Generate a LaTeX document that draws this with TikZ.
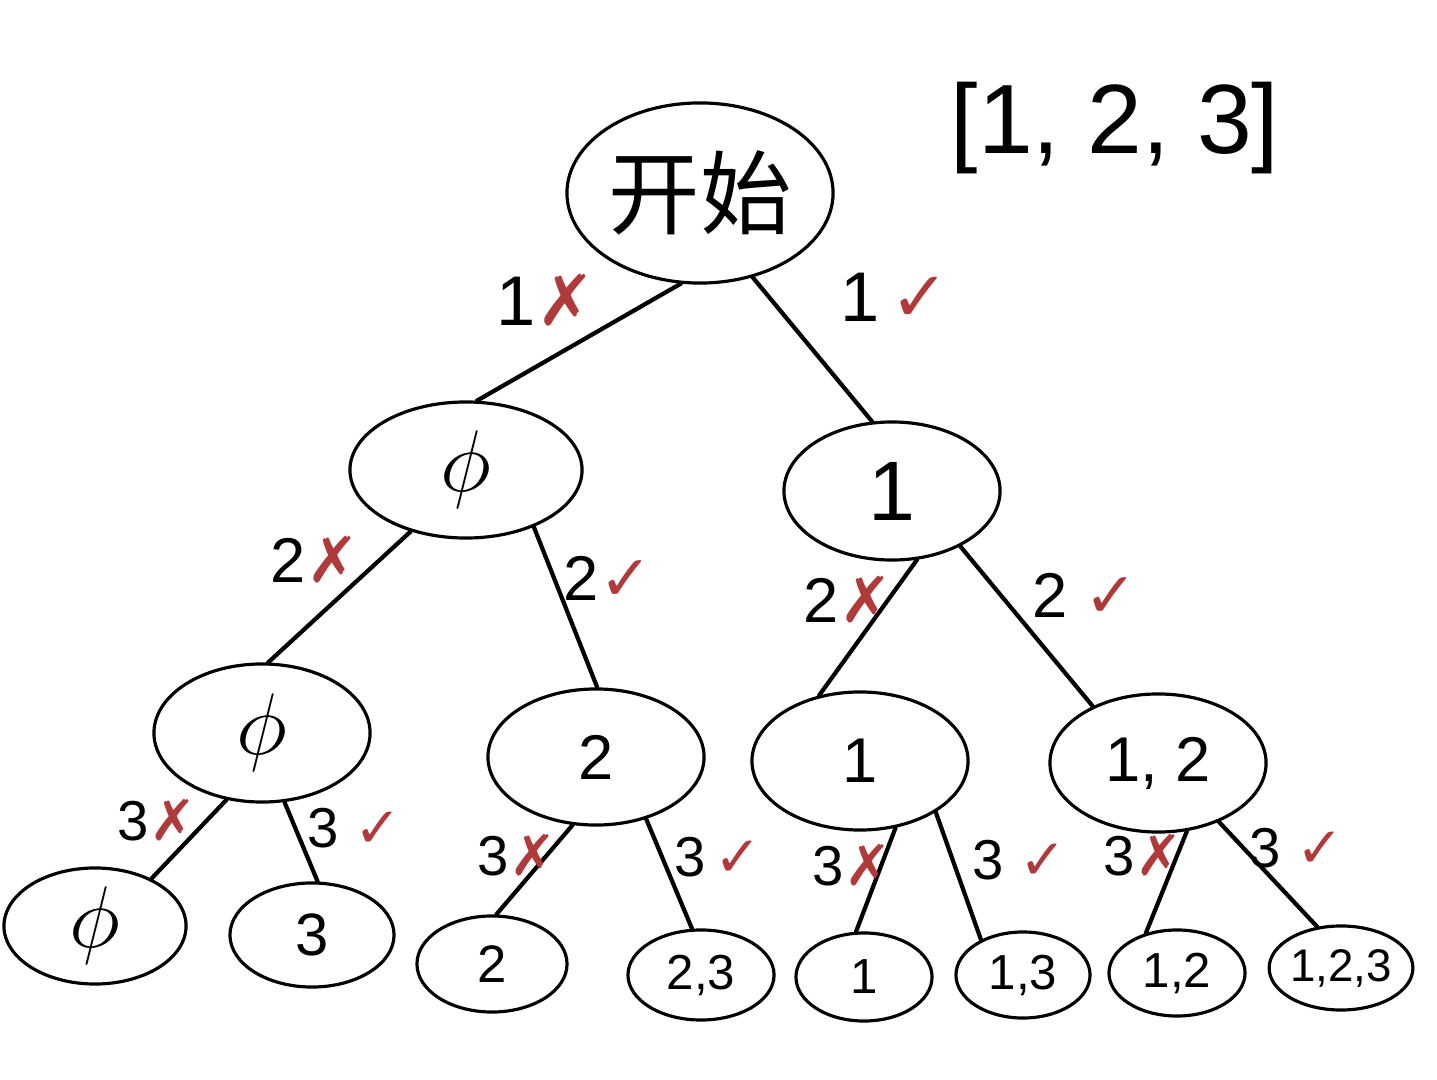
\documentclass[tikz,border=0pt]{standalone}
\usepackage{fontspec}
\setmainfont{Liberation Sans}
\newfontfamily\cjk{Noto Sans CJK SC}
\newfontfamily\symf{DejaVu Sans}
\usetikzlibrary{shapes.geometric}
\definecolor{markred}{HTML}{B03A3A}
\newcommand{\fs}[1]{\fontsize{#1}{#1}\selectfont}
\newcommand{\no}{\textcolor{markred}{\symf ✗}}
\newcommand{\yes}{\textcolor{markred}{\symf ✓}}
\tikzset{
  tnode/.style={ellipse, draw=black, line width=0.9pt, inner sep=0pt},
  edge/.style={line width=1.2pt, line cap=round},
  lbl/.style={inner sep=0pt, anchor=center},
}
\begin{document}
\begin{tikzpicture}[x=0.01cm, y=-0.01cm]
\useasboundingbox (0,0) rectangle (1437,1080);
% nodes
\node[tnode, minimum width=2.66cm, minimum height=1.80cm] (start) at (700,193) {\cjk\fs{26}开始};
\node[tnode, minimum width=2.32cm, minimum height=1.36cm] (phiA) at (466,470) {\fs{28}$\phi$};
\node[tnode, minimum width=2.16cm, minimum height=1.38cm] (oneA) at (892,491) {\fs{24}1};
\node[tnode, minimum width=2.16cm, minimum height=1.38cm] (phiB) at (262,733) {\fs{28}$\phi$};
\node[tnode, minimum width=2.16cm, minimum height=1.36cm] (twoB) at (596,757) {\fs{18}2};
\node[tnode, minimum width=2.16cm, minimum height=1.38cm] (oneB) at (860,761) {\fs{18}1};
\node[tnode, minimum width=2.16cm, minimum height=1.38cm] (otB) at (1158,763) {\fs{18}1, 2};
\node[tnode, minimum width=1.82cm, minimum height=1.16cm] (lphi) at (95,926) {\fs{24}$\phi$};
\node[tnode, minimum width=1.64cm, minimum height=1.04cm] (l3) at (312,935) {\fs{17}3};
\node[tnode, minimum width=1.50cm, minimum height=0.96cm] (l2) at (492,964) {\fs{15}2};
\node[tnode, minimum width=1.46cm, minimum height=0.90cm] (l23) at (701,975) {\fs{14}2,3};
\node[tnode, minimum width=1.36cm, minimum height=0.88cm] (l1) at (864,977) {\fs{14}1};
\node[tnode, minimum width=1.34cm, minimum height=0.86cm] (l13) at (1023,975) {\fs{14}1,3};
\node[tnode, minimum width=1.36cm, minimum height=0.86cm] (l12) at (1177,973) {\fs{14}1,2};
\node[tnode, minimum width=1.36cm, minimum height=0.84cm] (l123) at (1341,968) {\fs{13}1,2,3};
% title
\node[lbl] (title) at (1115,128) {\fs{28}[1, 2, 3]};
% edges
\draw[edge] (start.258) -- (phiA.81);
\draw[edge] (start.302) -- (oneA.106);
\draw[edge] (phiA.228) -- (phiB.85);
\draw[edge] (phiA.320) -- (twoB.89);
\draw[edge] (oneA.290) -- (oneB.122);
\draw[edge] (oneA.321) -- (otB.139);
\draw[edge] (phiB.242) -- (lphi.40);
\draw[edge] (phiB.288) -- (l3.84);
\draw[edge] (twoB.251) -- (l2.85);
\draw[edge] (twoB.309) -- (l23.101);
\draw[edge] (oneB.298) -- (l1.100);
\draw[edge] (oneB.326) -- (l13.140);
\draw[edge] (otB.293) -- (l12.128);
\draw[edge] (otB.316) -- (l123.120);
% labels
\node[lbl] (a1) at (546,300) {\fs{20}1\no};
\node[lbl] (a2) at (895,297) {\fs{20}1\,\yes};
\node[lbl] (b1) at (315,560) {\fs{18}2\no};
\node[lbl] (b2) at (608,578) {\fs{18}2\yes};
\node[lbl] (b3) at (848,600) {\fs{18}2\no};
\node[lbl] (b4) at (1085,595) {\fs{18}2\ \yes};
\node[lbl] (c1) at (157,820) {\fs{16}3\no};
\node[lbl] (c2) at (355,828) {\fs{16}3\ \yes};
\node[lbl] (c3) at (517,855) {\fs{16}3\no};
\node[lbl] (c4) at (718,857) {\fs{16}3\,\yes};
\node[lbl] (c5) at (852,865) {\fs{16}3\no};
\node[lbl] (c6) at (1020,860) {\fs{16}3\ \yes};
\node[lbl] (c7) at (1143,855) {\fs{16}3\no};
\node[lbl] (c8) at (1297,848) {\fs{16}3\ \yes};
\end{tikzpicture}
\end{document}
